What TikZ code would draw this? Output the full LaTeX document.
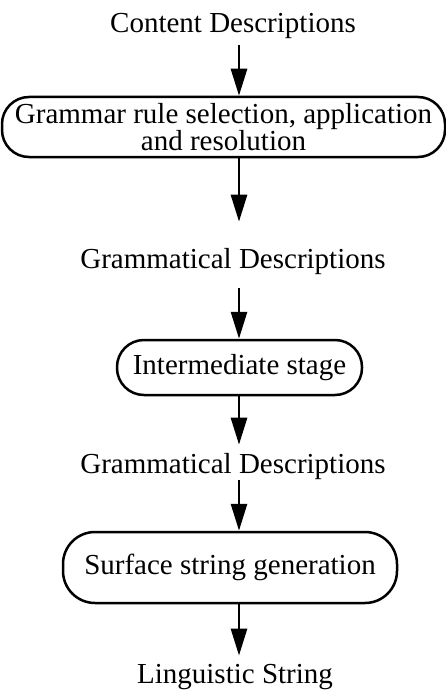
\documentclass[tikz,border=0pt]{standalone}
\usepackage{fontspec}
\setmainfont{Liberation Serif}
\usetikzlibrary{arrows.meta}
\begin{document}
\begin{tikzpicture}[x=1pt,y=-1pt,
  lbl/.style={inner sep=0pt, font=\fontsize{29}{25}\selectfont, anchor=base},
  stage/.style={draw, line width=2.5pt, rounded corners=27pt, inner sep=0pt, align=center, font=\fontsize{29}{25}\selectfont},
  flow/.style={line width=2.8pt, -{Triangle[length=27pt,width=16pt]}}]
\useasboundingbox (0,0) rectangle (446,690);
\coordinate (ax) at (239,0);
\node[lbl] (cd) at (233,33) {Content Descriptions};
\node[stage, minimum width=443pt, minimum height=60pt] (b1) at (223.5,127) {Grammar rule selection, application\\and resolution};
\node[lbl] (gd1) at (233,268) {Grammatical Descriptions};
\node[stage, minimum width=245pt, minimum height=55pt] (b2) at (239.5,367.5) {Intermediate stage};
\node[lbl] (gd2) at (233,473) {Grammatical Descriptions};
\node[stage, minimum width=334pt, minimum height=71pt, rounded corners=32pt] (b3) at (230,567.5) {Surface string generation};
\node[lbl] (ls) at (235,683) {Linguistic String};
\draw[flow, shorten <=5.6pt] (cd.south -| ax) -- (b1.north -| ax);
\draw[flow, shorten >=26pt] (b1.south -| ax) -- (gd1.north -| ax);
\draw[flow, shorten <=13.7pt] (gd1.south -| ax) -- (b2.north -| ax);
\draw[flow, shorten >=8pt] (b2.south -| ax) -- (gd2.north -| ax);
\draw[flow, shorten <=1pt] (gd2.south -| ax) -- (b3.north -| ax);
\draw[flow, shorten >=8pt] (b3.south -| ax) -- (ls.north -| ax);
\end{tikzpicture}
\end{document}
